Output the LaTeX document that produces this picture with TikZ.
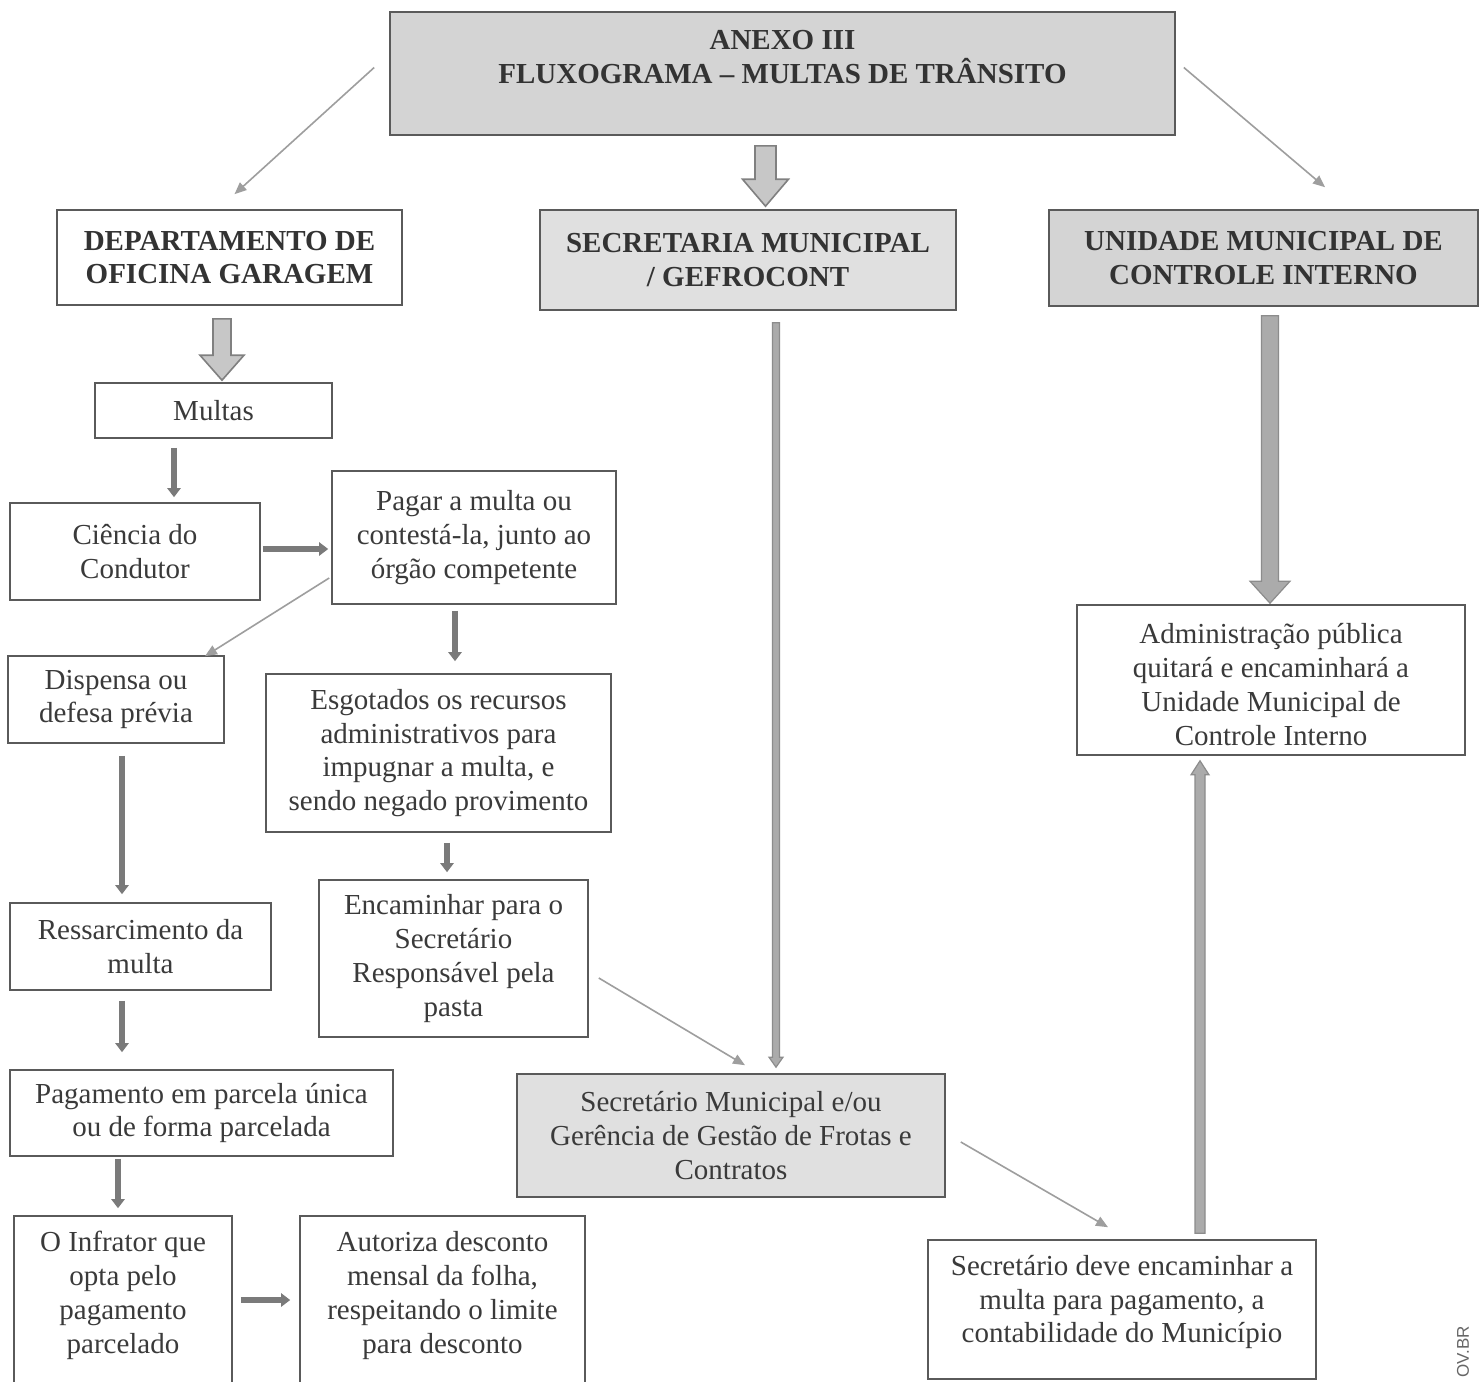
\documentclass[tikz,border=0pt]{standalone}
\usepackage{fontspec}
\setmainfont{Liberation Serif}
\setsansfont{Liberation Sans}
\usetikzlibrary{arrows.meta,calc}
\definecolor{txt}{HTML}{3A3A3A}
\definecolor{edge}{HTML}{5A5A5A}
\tikzset{
  box/.style={draw=edge, line width=0.8pt, rectangle, align=center, text=txt,
    font=\fontsize{14.5}{16.9}\selectfont, inner sep=2pt},
  head/.style={box, font=\fontsize{14.5}{16.9}\selectfont\bfseries, text=black!80},
  shade1/.style={fill=black!17},
  shade2/.style={fill=black!12},
  thin/.style={draw=black!38, line width=0.8pt, -{Triangle[length=6pt,width=5pt]}},
  thick/.style={draw=black!52, line width=2.6pt, -{Triangle[length=4.5pt,width=6.5pt]}},
  blk/.style={fill=black!22, draw=black!50, line width=0.8pt},
  lng/.style={fill=black!33, draw=black!45, line width=0.6pt},
}
% vertical block arrow: from, tip, shaft half width, head half width, head length (signed)
\newcommand{\vblock}[6]{%
  \filldraw[#6] ($(#1)+(-#3,0)$) -- ($(#2)+(-#3,0)-(0,#5)$) -- ($(#2)+(-#4,0)-(0,#5)$)
    -- (#2) -- ($(#2)+(#4,0)-(0,#5)$) -- ($(#2)+(#3,0)-(0,#5)$) -- ($(#1)+(#3,0)$) -- cycle;}
\begin{document}
\begin{tikzpicture}[x=0.5pt,y=-0.5pt]
\useasboundingbox (0,0) rectangle (1482,1381);
\fill[white] (0,0) rectangle (1482,1381);

% ---- boxes ----
\node[box, shade1, minimum width=392.5pt, minimum height=61.5pt] (title) at (782.5,73.5) {};
\node[head, draw=none, fill=none] (titletext) at (782.5,57) {ANEXO III\\FLUXOGRAMA -- MULTAS DE TRÂNSITO};

\node[head, minimum width=172.5pt, minimum height=47.5pt] (dept) at (229.5,257.5) {DEPARTAMENTO DE\\OFICINA GARAGEM};
\node[head, shade2, minimum width=208pt, minimum height=50pt] (sec) at (748,260) {SECRETARIA MUNICIPAL\\/ GEFROCONT};
\node[head, shade1, minimum width=214.5pt, minimum height=48pt] (unid) at (1263.5,258) {UNIDADE MUNICIPAL DE\\CONTROLE INTERNO};

\node[box, minimum width=118.5pt, minimum height=27.5pt] (multas) at (213.5,410.5) {Multas};
\node[box, minimum width=125pt, minimum height=48.5pt] (ciencia) at (135,551.5) {Ciência do\\Condutor};
\node[box, minimum width=142pt, minimum height=66.5pt] (pagar) at (474,537.5) {Pagar a multa ou\\contestá-la, junto ao\\órgão competente};
\node[box, minimum width=108pt, minimum height=43.5pt] (disp) at (116,699.5) {Dispensa ou\\defesa prévia};
\node[box, minimum width=172.5pt, minimum height=79pt] (esg) at (438.5,753) {Esgotados os recursos\\administrativos para\\impugnar a multa, e\\sendo negado provimento};
\node[box, minimum width=130.5pt, minimum height=43.5pt] (ress) at (140.5,946.5) {Ressarcimento da\\multa};
\node[box, minimum width=134.5pt, minimum height=78.5pt] (enc) at (453.5,958.5) {Encaminhar para o\\Secretário\\Responsável pela\\pasta};
\node[box, minimum width=191.5pt, minimum height=43pt] (pgto) at (201.5,1113) {Pagamento em parcela única\\ou de forma parcelada};

\node[box, minimum width=109pt, minimum height=89pt] (inf) at (123,1305) {};
\node[box, draw=none] (inftext) at (123,1295.5) {O Infrator que\\opta pelo\\pagamento\\parcelado};
\node[box, minimum width=142.5pt, minimum height=89pt] (aut) at (442.5,1305) {};
\node[box, draw=none] (auttext) at (442.5,1295.5) {Autoriza desconto\\mensal da folha,\\respeitando o limite\\para desconto};

\node[box, shade2, minimum width=214pt, minimum height=61.5pt] (secmun) at (731,1135.5) {Secretário Municipal e/ou\\Gerência de Gestão de Frotas e\\Contratos};
\node[box, minimum width=194pt, minimum height=69.5pt] (secdeve) at (1122,1309.5) {};
\node[box, draw=none] (secdevetext) at (1122,1302) {Secretário deve encaminhar a\\multa para pagamento, a\\contabilidade do Município};
\node[box, minimum width=194pt, minimum height=75pt] (adm) at (1271,680) {};
\node[box, draw=none] (admtext) at (1271,684.5) {Administração pública\\quitará e encaminhará a\\Unidade Municipal de\\Controle Interno};

\node[font=\sffamily\fontsize{8.5}{10}\selectfont, text=black!60, rotate=90] (wm) at (1463,1352) {OV.BR};

% ---- connectors ----
\draw[thin] ($(title.west)+(-15,-6)$) -- ($(dept.north)+(5,-15)$);
\draw[thin] ($(title.east)+(8,-6)$) -- ($(unid.north)+(61.5,-22)$);

\coordinate (b1s) at ($(title.south)+(-17,10)$);
\coordinate (b1e) at ($(sec.north)+(17.5,-3)$);
\vblock{b1s}{b1e}{10.5}{23}{27}{blk}

\coordinate (b2s) at ($(dept.south)+(-7.5,13)$);
\coordinate (b2e) at ($(multas.north)+(8.5,-2)$);
\vblock{b2s}{b2e}{9}{22}{25}{blk}

\draw[thick] ($(multas.south)+(-39.5,9)$) -- ($(ciencia.north)+(39,-5)$);
\draw[thick] ($(ciencia.east)+(2,-2.5)$) -- ($(pagar.west)+(-3,11.5)$);
\draw[thin] ($(pagar.west)+(-2,40.5)$) -- ($(disp.north)+(89,1)$);
\draw[thick] ($(pagar.south)+(-19,6)$) -- ($(esg.north)+(16.5,-12)$);
\draw[thick] ($(disp.south)+(6,12)$) -- ($(ress.north)+(-18.5,-8)$);
\draw[thick] ($(esg.south)+(8.5,10)$) -- ($(enc.north)+(-6.5,-7)$);
\draw[thick] ($(ress.south)+(-18.5,10)$) -- ($(pgto.north)+(-79.5,-17)$);
\draw[thick] ($(pgto.south)+(-83.5,2)$) -- ($(inf.north)+(-5,-7)$);
\draw[thick] ($(inf.east)+(8,-5)$) -- ($(aut.west)+(-9,-5)$);

\coordinate (b3s) at ($(sec.south)+(28,12)$);
\coordinate (b3e) at ($(secmun.north)+(45,-6)$);
\vblock{b3s}{b3e}{3.5}{7}{10}{lng}

\draw[thin] ($(enc.east)+(10,19.5)$) -- ($(secmun.north)+(14,-8)$);
\draw[thin] ($(secmun.east)+(15,6.5)$) -- ($(secdeve.north)+(-14,-12)$);

\coordinate (b4s) at ($(unid.south)+(6.5,9)$);
\coordinate (b4e) at ($(adm.north)+(-1,-1)$);
\vblock{b4s}{b4e}{8.5}{20}{22}{lng}

\coordinate (b5s) at ($(secdeve.north)+(78,-6)$);
\coordinate (b5e) at ($(adm.south)+(-71,5)$);
\vblock{b5s}{b5e}{5}{9}{-14}{lng}
\end{tikzpicture}
\end{document}
